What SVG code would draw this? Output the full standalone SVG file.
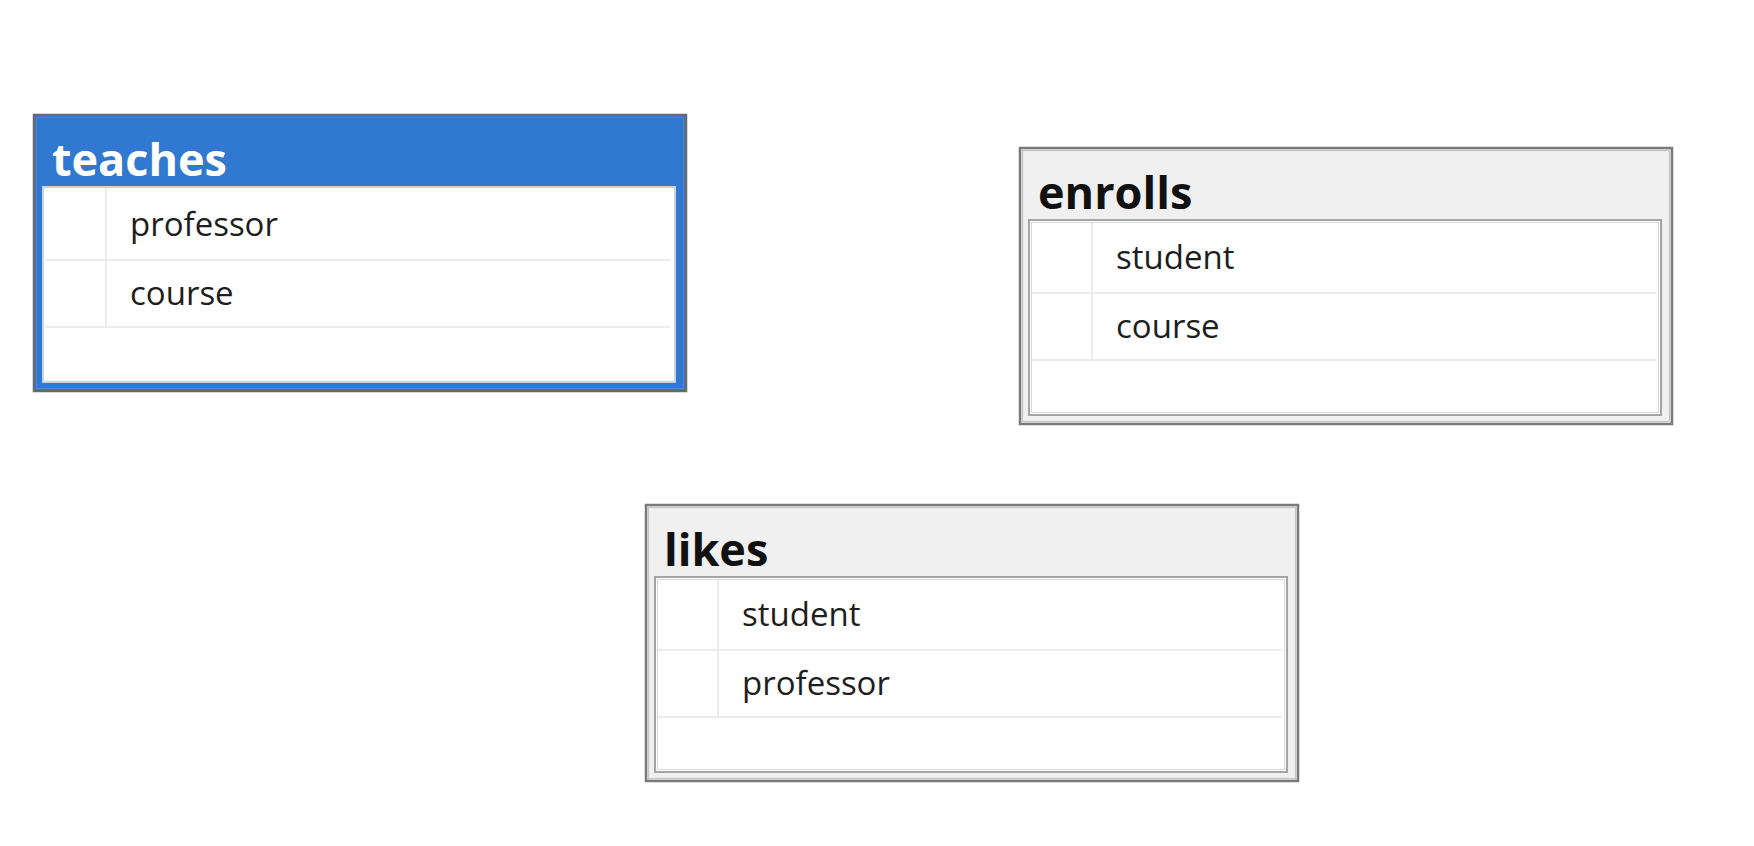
<svg xmlns="http://www.w3.org/2000/svg" width="1754" height="846" viewBox="0 0 1754 846">
<defs>
<style>
.outer{fill:#f0f0f0;stroke:#7a7a7a;stroke-width:2.5}
.outer.sel{fill:#3178d0;stroke:#6a6a6a}
.outer2{fill:none;stroke:#c4c4c4;stroke-width:1.2}
.outer2.sel{stroke:#4a86d4}
.inner{fill:#ffffff;stroke:#a4a4a4;stroke-width:2}
.inner.sel{stroke:#c9d3e0}
.inner2{fill:none;stroke:#d8d8d8;stroke-width:1}
.grid{stroke:#ececec;stroke-width:2;fill:none}
.title{font-family:"Open Sans","DejaVu Sans",sans-serif;font-weight:700;font-size:45px;fill:#111111}
.title.sel{fill:#ffffff}
.field{font-family:"Open Sans","DejaVu Sans",sans-serif;font-size:33px;fill:#1e1e1e}
</style>
</defs>
<rect width="1754" height="846" fill="#ffffff"/>
<g id="connectors"></g>
<g id="teaches" transform="translate(34,115)">
<rect class="outer sel" x="0" y="0" width="652" height="276"/>
<rect class="outer2 sel" x="2.5" y="2.5" width="647" height="271"/>
<rect class="inner sel" x="9" y="72" width="632" height="195"/>
<path class="grid" d="M11 145H636M11 212H636M72 73V212"/>
<text class="title sel" x="18" y="61">teaches</text>
<text class="field" x="96" y="121">professor</text>
<text class="field" x="96" y="190">course</text>
</g>
<g id="enrolls" transform="translate(1020,148)">
<rect class="outer" x="0" y="0" width="652" height="276"/>
<rect class="outer2" x="2.5" y="2.5" width="647" height="271"/>
<rect class="inner" x="9" y="72" width="632" height="195"/>
<rect class="inner2" x="11.5" y="74.5" width="627" height="190"/>
<path class="grid" d="M12 145H636M12 212H636M72 75V212"/>
<text class="title" x="18" y="61">enrolls</text>
<text class="field" x="96" y="121">student</text>
<text class="field" x="96" y="190">course</text>
</g>
<g id="likes" transform="translate(646,505)">
<rect class="outer" x="0" y="0" width="652" height="276"/>
<rect class="outer2" x="2.5" y="2.5" width="647" height="271"/>
<rect class="inner" x="9" y="72" width="632" height="195"/>
<rect class="inner2" x="11.5" y="74.5" width="627" height="190"/>
<path class="grid" d="M12 145H636M12 212H636M72 75V212"/>
<text class="title" x="18" y="61">likes</text>
<text class="field" x="96" y="121">student</text>
<text class="field" x="96" y="190">professor</text>
</g>
</svg>
